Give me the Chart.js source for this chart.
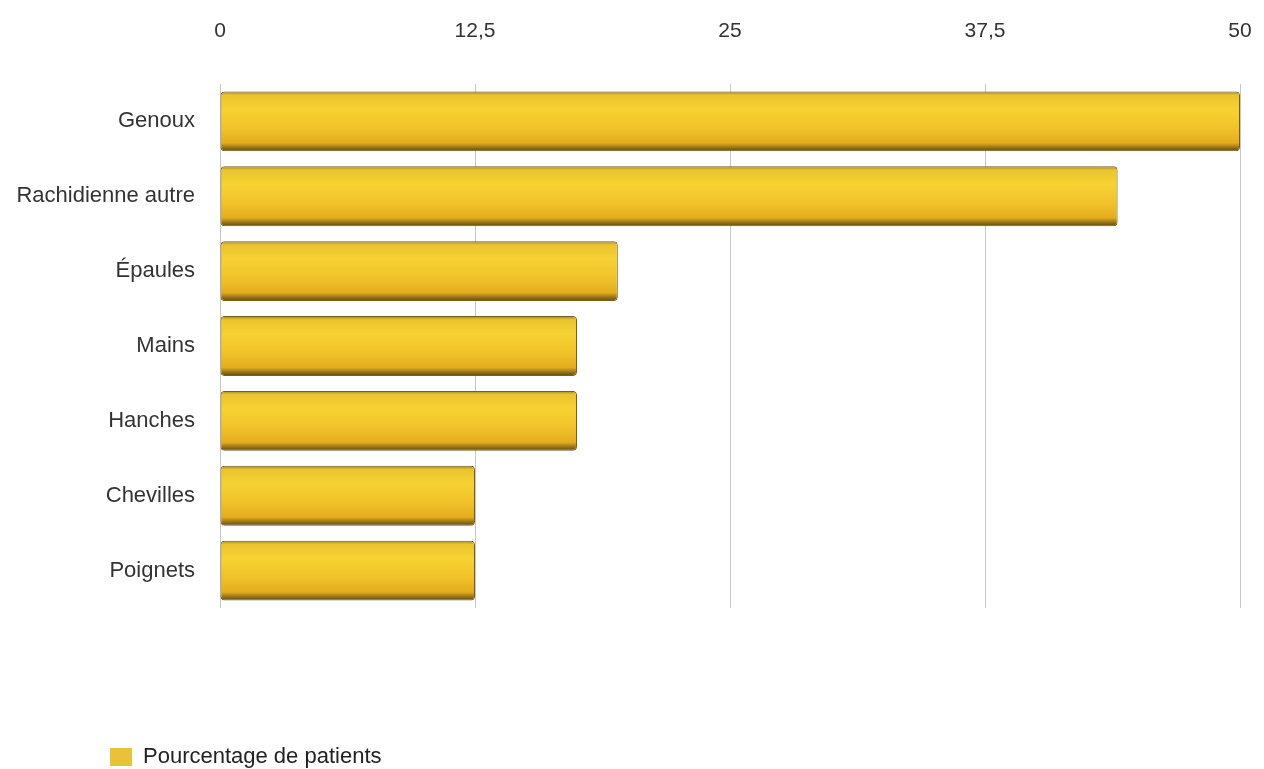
<!DOCTYPE html>
<html>
<head>
<meta charset="utf-8">
<script src="https://cdn.jsdelivr.net/npm/chart.js@4/dist/chart.umd.min.js"></script>
<style>
  html, body { margin: 0; padding: 0; background: #ffffff; }
  #wrap { position: relative; width: 1264px; height: 769px; }
</style>
</head>
<body>
<div id="wrap"><canvas id="c"></canvas></div>
<script>
const categories = ['Genoux', 'Rachidienne autre', 'Épaules', 'Mains', 'Hanches', 'Chevilles', 'Poignets'];
const seriesLabel = 'Pourcentage de patients';
const values = [50, 44, 19.5, 17.5, 17.5, 12.5, 12.5];
const xTicks = [0, 12.5, 25, 37.5, 50];

const FONT = "'Liberation Sans', Arial, Helvetica, sans-serif";
const BAR_PCT = 0.8;

function barFill(ctx) {
  const chart = ctx.chart;
  const y = chart.scales && chart.scales.y;
  if (!y || ctx.type !== 'data' || !isFinite(y.getPixelForValue(0))) return '#F2C630';
  const c = y.getPixelForValue(ctx.dataIndex);
  const step = Math.abs(y.getPixelForValue(1) - y.getPixelForValue(0));
  const h = step * BAR_PCT / 2;
  const g = chart.ctx.createLinearGradient(0, c - h, 0, c + h);
  g.addColorStop(0, '#9C8430');
  g.addColorStop(0.06, '#E9C42E');
  g.addColorStop(0.3, '#F6D232');
  g.addColorStop(0.62, '#F1C22A');
  g.addColorStop(0.86, '#E3AC1E');
  g.addColorStop(0.95, '#8A6A18');
  g.addColorStop(1, '#5E4A14');
  return g;
}

const legendMove = {
  id: 'legendMove',
  afterLayout(chart) {
    const lg = chart.legend;
    if (!lg) return;
    const w = lg.width, h = lg.height;
    lg.left = 100; lg.right = lg.left + w;
    lg.top = 736; lg.bottom = lg.top + h;
  }
};

new Chart(document.getElementById('c'), {
  type: 'bar',
  data: {
    labels: categories,
    datasets: [{
      label: seriesLabel,
      data: values,
      backgroundColor: barFill,
      borderColor: '#7A5E14',
      borderWidth: 1,
      borderSkipped: false,
      borderRadius: 4,
      barPercentage: BAR_PCT,
      categoryPercentage: 1
    }]
  },
  options: {
    indexAxis: 'y',
    responsive: true,
    maintainAspectRatio: false,
    animation: false,
    layout: { padding: { top: 22, right: 24, bottom: 119, left: 0 } },
    scales: {
      x: {
        position: 'top',
        min: 0,
        max: 50,
        afterBuildTicks: s => { s.ticks = xTicks.map(v => ({ value: v })); },
        afterFit: s => { s.height = 62; s.paddingLeft = 0; s.paddingRight = 0; },
        grid: { color: '#C8C8C8', lineWidth: 1, drawTicks: false },
        border: { display: false },
        ticks: {
          padding: 40,
          maxRotation: 0,
          color: '#333333',
          font: { family: FONT, size: 21 },
          callback: v => String(v).replace('.', ',')
        }
      },
      y: {
        afterFit: s => { s.width = 220; },
        grid: { display: false, drawTicks: false },
        border: { display: false },
        ticks: {
          padding: 25,
          color: '#333333',
          font: { family: FONT, size: 22 }
        }
      }
    },
    plugins: {
      legend: {
        position: 'bottom',
        align: 'start',
        labels: {
          boxWidth: 22,
          boxHeight: 18,
          padding: 10,
          color: '#222222',
          font: { family: FONT, size: 22 },
          generateLabels: chart => {
            const items = Chart.defaults.plugins.legend.labels.generateLabels(chart);
            items.forEach(it => { it.fillStyle = '#E9C23A'; it.strokeStyle = '#E9C23A'; it.lineWidth = 0; });
            return items;
          }
        }
      },
      tooltip: { enabled: false }
    }
  },
  plugins: [legendMove]
});
</script>
</body>
</html>
